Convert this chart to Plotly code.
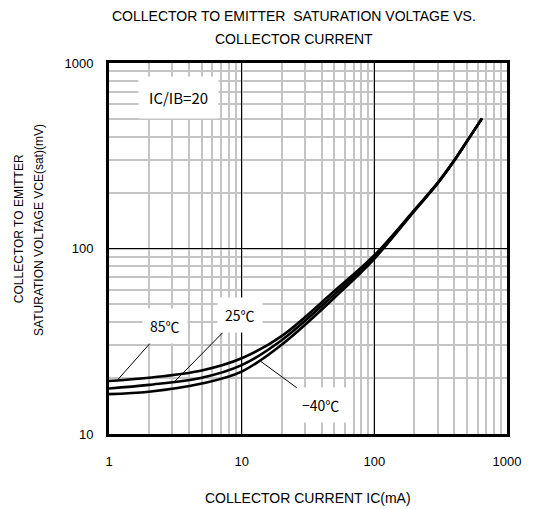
import plotly.graph_objects as go

# Data
ic_ma = [1, 2, 5, 10, 20, 50, 100, 200, 300, 400, 500, 648]
vce_85 = [19.3, 20.1, 22.0, 25.6, 33.7, 59.0, 92.0, 161, 226, 299, 380, 503]
vce_25 = [17.6, 18.4, 20.1, 23.5, 32.0, 56.6, 90.0, 160, 225, 298, 379, 503]
vce_m40 = [16.4, 16.9, 18.7, 21.7, 30.3, 54.3, 88.0, 159, 224, 297, 378, 503]

x_ticks = [1, 10, 100, 1000]
y_ticks = [10, 100, 1000]

series = [("85℃", vce_85), ("25℃", vce_25), ("−40℃", vce_m40)]

fig = go.Figure()
for name, vals in series:
    fig.add_trace(go.Scatter(x=ic_ma, y=vals, mode="lines", name=name,
                             line=dict(color="black", width=2.6, shape="spline", smoothing=1.0),
                             showlegend=False))

W, H = 533, 509
L, R, T, B = 109, 21, 63, 75
PW, PH = W - L - R, H - T - B


def px(xp):
    return (xp - L) / PW


def py(yp):
    return (H - B - yp) / PH


axis_common = dict(
    type="log", showline=True, mirror=True, linecolor="black", linewidth=3,
    showgrid=True, gridcolor="black", gridwidth=1.2, ticks="", zeroline=False,
    tickfont=dict(family="Liberation Sans, Arial", size=13, color="black"),
    minor=dict(showgrid=True, gridcolor="#c4c4c4", gridwidth=1.6, dtick="D1", ticks=""),
)

fig.update_xaxes(range=[0, 3], tickvals=x_ticks, ticktext=[str(v) for v in x_ticks],
                 ticklabelstandoff=13, **axis_common)
fig.update_yaxes(range=[1, 3], tickvals=y_ticks, ticktext=[str(v) for v in y_ticks],
                 ticklabelstandoff=10, **axis_common)

lab_font = dict(family="Noto Sans CJK JP, Liberation Sans", size=14, color="black")
txt_font = dict(family="Liberation Sans, Arial", size=14, color="black")
ylab_font = dict(family="Liberation Sans, Arial", size=12, color="black")


def plain(text, xp, yp, font, angle=0):
    return dict(text=text, xref="paper", yref="paper", x=px(xp), y=py(yp),
                xanchor="center", yanchor="middle", showarrow=False, textangle=angle, font=font)


annotations = [
    plain("COLLECTOR TO EMITTER  SATURATION VOLTAGE VS.", 296, 16, txt_font),
    plain("COLLECTOR CURRENT", 296, 39, txt_font),
    plain("COLLECTOR CURRENT IC(mA)", 311, 498, txt_font),
    plain("COLLECTOR TO EMITTER", 18, 229, ylab_font, -90),
    plain("SATURATION VOLTAGE VCE(sat)(mV)", 38, 230, ylab_font, -90),
    dict(text="IC/IB=20", xref="paper", yref="paper", x=px(179), y=py(97),
         xanchor="center", yanchor="middle", showarrow=False, bgcolor="white", borderpad=10,
         font=dict(family="Noto Sans CJK JP, Liberation Sans", size=15, color="black")),
    dict(text="85℃", x=0.069, y=1.295, xref="x", yref="y", ax=47, ay=-53,
         showarrow=True, arrowhead=0, arrowwidth=1, arrowcolor="black",
         bgcolor="white", borderpad=7, font=lab_font),
    dict(text="25℃", x=0.496, y=1.284, xref="x", yref="y", ax=65, ay=-66,
         showarrow=True, arrowhead=0, arrowwidth=1, arrowcolor="black",
         bgcolor="white", borderpad=7, font=lab_font),
    dict(text="−40℃", x=1.143, y=1.392, xref="x", yref="y", ax=60, ay=44,
         showarrow=True, arrowhead=0, arrowwidth=1, arrowcolor="black",
         bgcolor="white", borderpad=7, font=lab_font),
]

fig.update_layout(width=W, height=H, margin=dict(l=L, r=R, t=T, b=B),
                  paper_bgcolor="white", plot_bgcolor="white",
                  annotations=annotations)

fig.write_html("out.html")
